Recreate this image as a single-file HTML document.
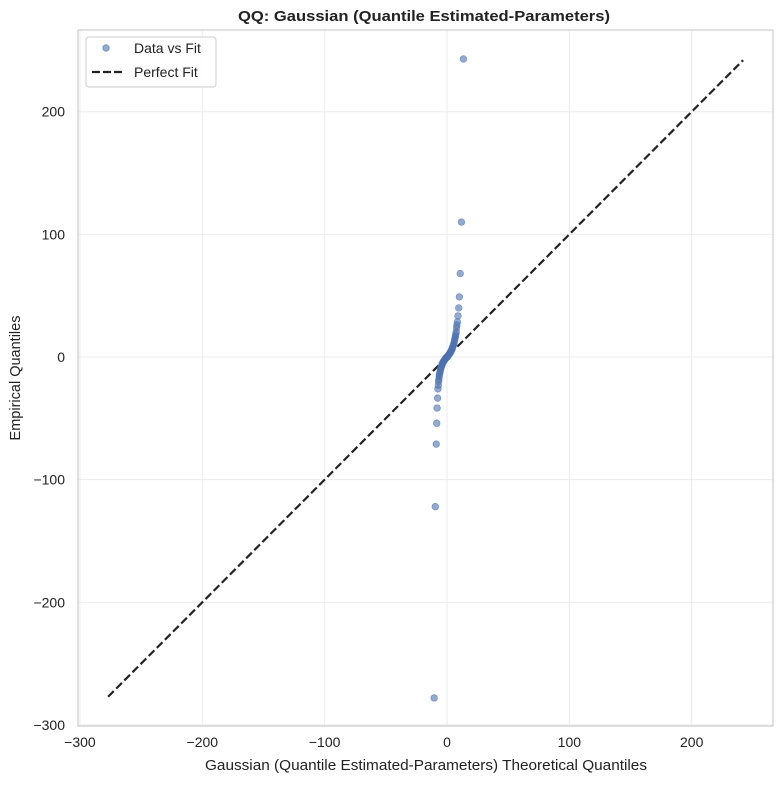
<!DOCTYPE html>
<html><head><meta charset="utf-8"><style>
body{margin:0;background:#fff;font-family:"Liberation Sans",sans-serif}
</style></head><body>
<svg id="chart" width="784" height="784" xmlns="http://www.w3.org/2000/svg" font-family="Liberation Sans, sans-serif">
<text x="238" y="21" textLength="372" lengthAdjust="spacingAndGlyphs" font-size="15" font-weight="bold" fill="#222">QQ: Gaussian (Quantile Estimated-Parameters)</text>
<g id="grid"></g>
<rect x="78" y="30" width="695" height="696" fill="none" stroke="#ccc" stroke-width="1.2"/>
<g id="line"></g>
<g id="points"></g>
<g id="ticks"></g>
<text x="205" y="770" textLength="442" lengthAdjust="spacingAndGlyphs" font-size="14.5" fill="#222">Gaussian (Quantile Estimated-Parameters) Theoretical Quantiles</text>
<text transform="translate(20,378) rotate(-90)" text-anchor="middle" font-size="14.5" fill="#222">Empirical Quantiles</text>
<g>
<rect x="86" y="37" width="130" height="50" rx="3" fill="#fff" fill-opacity="0.85" stroke="#ccc"/>
<circle cx="106" cy="48" r="3.2" fill="#4c72b0" fill-opacity="0.6" stroke="#4c72b0" stroke-opacity="0.6"/>
<text x="134" y="53" font-size="14" fill="#222">Data vs Fit</text>
<line x1="92" y1="72" x2="122" y2="72" stroke="#222" stroke-width="2.2" stroke-dasharray="8,3"/>
<text x="134" y="77" font-size="14" fill="#222">Perfect Fit</text>
</g>
</svg>
<script>
const xTicks=[-300,-200,-100,0,100,200];
const yTicks=[-300,-200,-100,0,100,200];
const theoretical=[-10.5,-9.6,-8.8,-8.4,-8.1,-7.7,-7.4,-7.1,-6.9,-6.6,-6.4,-6.2,-5.9,-5.6,-5.3,-5,-4.7,-4.3,-4,-3.6,-3.2,-2.8,-2.4,-2,-1.6,-1.2,-0.8,-0.4,0,0.4,0.8,1.2,1.6,2,2.4,2.8,3.2,3.6,4,4.4,4.8,5.2,5.6,6,6.3,6.6,6.9,7.2,7.5,7.8,8.1,8.5,9,9.6,10.1,10.8,11.8,13.4];
const empirical=[-278,-122,-71,-54,-41.6,-33.5,-26,-23,-20,-18,-16,-14.5,-13,-11.5,-10,-9,-8,-7,-6,-5,-4.3,-3.6,-3,-2.4,-1.8,-1.3,-0.8,-0.4,0,0.4,0.9,1.4,2,2.6,3.2,3.9,4.6,5.4,6.3,7.3,8.4,9.6,11,12.5,14,15.5,17,18.5,20.5,23.7,26,28.6,33.5,40,49,68,110,243];
const fitLine=[-277,242];
const NS="http://www.w3.org/2000/svg";
const sx=v=>447+v*1.2235, sy=v=>357-v*1.2265;
function mk(t,a,p){const e=document.createElementNS(NS,t);for(const k in a)e.setAttribute(k,a[k]);p.appendChild(e);return e;}
const g=document.getElementById('grid'),tk=document.getElementById('ticks');
xTicks.forEach(v=>{
 const l=mk('line',{x1:sx(v),x2:sx(v),y1:30,y2:726,stroke:'#ebebeb'},g);
 
 
 const t=mk('text',{x:sx(v),y:747,'text-anchor':'middle','font-size':14,fill:'#222'},tk);
 t.textContent=String(v).replace('-','\u2212');
 
 
});
yTicks.forEach(v=>{
 const l=mk('line',{x1:78,x2:773,y1:sy(v),y2:sy(v),stroke:'#ebebeb'},g);
 
 
 const t=mk('text',{x:65,y:sy(v)+5,'text-anchor':'end','font-size':14,fill:'#222'},tk);
 t.textContent=String(v).replace('-','\u2212');
 
 
});
const ln=mk('line',{x1:sx(fitLine[0]),y1:sy(fitLine[0]),x2:sx(fitLine[1]),y2:sy(fitLine[1]),stroke:'#222','stroke-width':2.2,'stroke-dasharray':'8,3.5'},document.getElementById('line'));


const pg=document.getElementById('points');
theoretical.forEach((x,i)=>{
 const c=mk('circle',{cx:sx(x),cy:sy(empirical[i]),r:3.3,fill:'#4c72b0','fill-opacity':0.6,stroke:'#4c72b0','stroke-opacity':0.6,'stroke-width':0.8},pg);
 
 
});
</script>
</body></html>
